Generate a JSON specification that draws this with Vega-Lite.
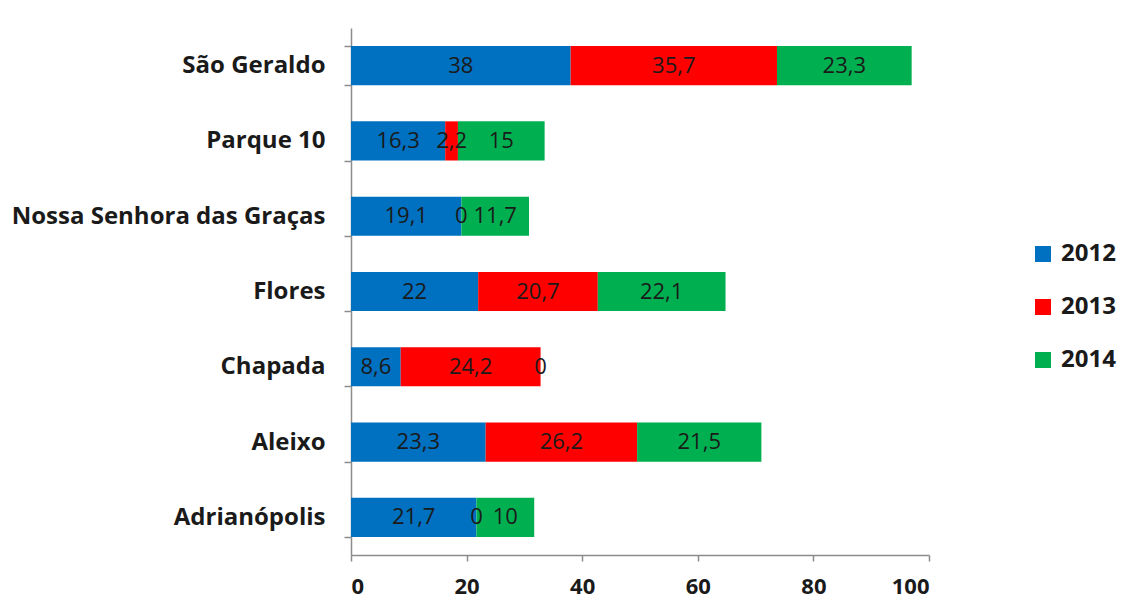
{
  "$schema": "https://vega.github.io/schema/vega-lite/v6.json",
  "width": 578,
  "height": 527,
  "autosize": {"type": "none"},
  "padding": {"left": 351, "top": 28, "right": 193, "bottom": 50},
  "background": "white",
  "config": {
    "view": {"stroke": null},
    "font": "Open Sans",
    "locale": {
      "number": {"decimal": ",", "thousands": ".", "grouping": [3], "currency": ["", ""]}
    }
  },
  "data": {
    "values": [
      {"bairro": "São Geraldo", "ano": "2012", "ordem": 1, "valor": 38},
      {"bairro": "São Geraldo", "ano": "2013", "ordem": 2, "valor": 35.7},
      {"bairro": "São Geraldo", "ano": "2014", "ordem": 3, "valor": 23.3},
      {"bairro": "Parque 10", "ano": "2012", "ordem": 1, "valor": 16.3},
      {"bairro": "Parque 10", "ano": "2013", "ordem": 2, "valor": 2.2},
      {"bairro": "Parque 10", "ano": "2014", "ordem": 3, "valor": 15},
      {"bairro": "Nossa Senhora das Graças", "ano": "2012", "ordem": 1, "valor": 19.1},
      {"bairro": "Nossa Senhora das Graças", "ano": "2013", "ordem": 2, "valor": 0},
      {"bairro": "Nossa Senhora das Graças", "ano": "2014", "ordem": 3, "valor": 11.7},
      {"bairro": "Flores", "ano": "2012", "ordem": 1, "valor": 22},
      {"bairro": "Flores", "ano": "2013", "ordem": 2, "valor": 20.7},
      {"bairro": "Flores", "ano": "2014", "ordem": 3, "valor": 22.1},
      {"bairro": "Chapada", "ano": "2012", "ordem": 1, "valor": 8.6},
      {"bairro": "Chapada", "ano": "2013", "ordem": 2, "valor": 24.2},
      {"bairro": "Chapada", "ano": "2014", "ordem": 3, "valor": 0},
      {"bairro": "Aleixo", "ano": "2012", "ordem": 1, "valor": 23.3},
      {"bairro": "Aleixo", "ano": "2013", "ordem": 2, "valor": 26.2},
      {"bairro": "Aleixo", "ano": "2014", "ordem": 3, "valor": 21.5},
      {"bairro": "Adrianópolis", "ano": "2012", "ordem": 1, "valor": 21.7},
      {"bairro": "Adrianópolis", "ano": "2013", "ordem": 2, "valor": 0},
      {"bairro": "Adrianópolis", "ano": "2014", "ordem": 3, "valor": 10}
    ]
  },
  "encoding": {
    "y": {
      "field": "bairro",
      "type": "nominal",
      "sort": ["São Geraldo", "Parque 10", "Nossa Senhora das Graças", "Flores", "Chapada", "Aleixo", "Adrianópolis"],
      "scale": {"paddingInner": 0.48, "paddingOuter": 0.24},
      "axis": {
        "title": null,
        "labelFont": "Open Sans",
        "labelFontWeight": "bold",
        "labelFontSize": 24,
        "labelColor": "#1a1a1a",
        "labelLimit": 0,
        "labelPadding": 19,
        "domainColor": "#8c8c8c",
        "domainWidth": 1.5,
        "tickColor": "#8c8c8c",
        "tickWidth": 1.5,
        "tickSize": 7,
        "tickBand": "extent"
      }
    },
    "x": {
      "field": "valor",
      "type": "quantitative",
      "stack": "zero",
      "scale": {"domain": [0, 100], "nice": false},
      "axis": {
        "title": null,
        "values": [0, 20, 40, 60, 80, 100],
        "grid": false,
        "labelFont": "Open Sans",
        "labelFontWeight": "bold",
        "labelFontSize": 22,
        "labelColor": "#1a1a1a",
        "labelPadding": 15,
        "domainColor": "#8c8c8c",
        "domainWidth": 1.5,
        "tickColor": "#8c8c8c",
        "tickWidth": 1.5,
        "tickSize": 6
      }
    },
    "order": {"field": "ordem", "type": "quantitative"}
  },
  "layer": [
    {
      "mark": {"type": "bar"},
      "encoding": {
        "color": {
          "field": "ano",
          "type": "nominal",
          "scale": {"domain": ["2012", "2013", "2014"], "range": ["#0070C0", "#FF0000", "#00B050"]},
          "legend": {
            "title": null,
            "orient": "none",
            "legendX": 680,
            "legendY": 214,
            "symbolType": "square",
            "symbolSize": 256,
            "symbolStrokeWidth": 0,
            "labelFont": "Open Sans",
            "labelFontWeight": "bold",
            "labelFontSize": 24,
            "labelColor": "#1a1a1a",
            "labelOffset": 6,
            "rowPadding": 29,
            "padding": 0
          }
        }
      }
    },
    {
      "mark": {"type": "text", "fontSize": 22, "font": "Open Sans", "color": "#1a1a1a", "baseline": "middle"},
      "encoding": {
        "x": {"field": "valor", "type": "quantitative", "stack": "zero", "bandPosition": 0.5},
        "text": {"field": "valor", "type": "quantitative", "format": "~g"}
      }
    }
  ]
}
